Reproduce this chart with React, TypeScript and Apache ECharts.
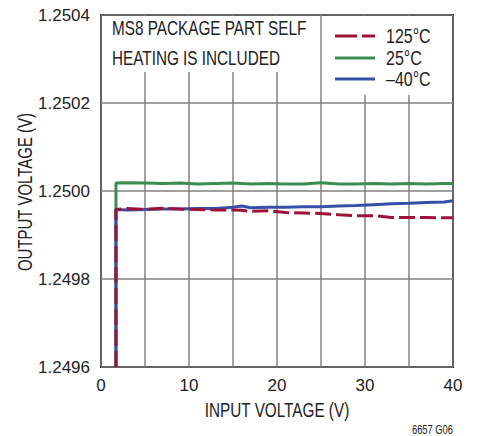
import React, { useEffect, useRef } from "react";
import * as echarts from "echarts";

const xMin = 0;
const xMax = 40;
const yMin = 1.2496;
const yMax = 1.2504;

const inputV = [1.7, 1.7, 3, 5, 7, 9, 11, 13, 15, 16, 17, 19, 21, 23, 25, 27, 29, 31, 33, 35, 37, 39, 40];

const v125 = [1.2496, 1.249958, 1.24996, 1.249958, 1.249961, 1.249959, 1.249958, 1.249957, 1.249957, 1.249956, 1.249954, 1.249955, 1.249951, 1.24995, 1.249949, 1.249946, 1.249944, 1.249944, 1.24994, 1.24994, 1.24994, 1.249939, 1.249939];
const v25 = [1.2496, 1.250018, 1.250019, 1.250018, 1.250017, 1.250018, 1.250016, 1.250017, 1.250018, 1.250017, 1.250016, 1.250017, 1.250016, 1.250016, 1.250019, 1.250016, 1.250016, 1.250017, 1.250016, 1.250017, 1.250016, 1.250017, 1.250017];
const vm40 = [1.2496, 1.249958, 1.249957, 1.249958, 1.249959, 1.249959, 1.24996, 1.24996, 1.249963, 1.249966, 1.249962, 1.249963, 1.249963, 1.249964, 1.249964, 1.249966, 1.249967, 1.249969, 1.249971, 1.249972, 1.249974, 1.249975, 1.249978];

const seriesNames = ["125°C", "25°C", "–40°C"];
const note = ["MS8 PACKAGE PART SELF", "HEATING IS INCLUDED"];
const xName = "INPUT VOLTAGE (V)";
const yName = "OUTPUT VOLTAGE (V)";
const footnote = "6657 G06";

const RED = "#9E1238";
const GREEN = "#3A8C50";
const BLUE = "#3550A8";
const TXT = "#222";

const REG = "'Liberation Sans', Arial, sans-serif";
const SQ = 0.765;

const pair = (ys: number[]) => ys.map((y, i) => [inputV[i], y]);

const ntext = (x: number, y: number, text: string, extra: any = {}, style: any = {}) => ({
  type: "text",
  z: 25,
  x,
  y,
  scaleX: SQ,
  ...extra,
  style: {
    text,
    fontFamily: REG,
    fontSize: 20,
    fill: TXT,
    verticalAlign: "middle",
    ...style,
  },
});

export default function App() {
  const ref = useRef<HTMLDivElement>(null);
  useEffect(() => {
    if (!ref.current) return;
    const chart = echarts.init(ref.current, null, { renderer: "svg" });
    const legendColors = [RED, GREEN, BLUE];
    const legendRows = [36, 58, 79];
    const legendGraphics: any[] = [];
    seriesNames.forEach((n, i) => {
      legendGraphics.push({
        type: "line",
        z: 25,
        shape: { x1: 335, y1: legendRows[i], x2: 375, y2: legendRows[i] },
        style: {
          stroke: legendColors[i],
          lineWidth: 3,
          lineDash: i === 0 ? [22, 5] : null,
        },
      });
      legendGraphics.push(ntext(386, legendRows[i], n, { scaleX: 0.8 }));
    });
    chart.setOption({
      animation: false,
      backgroundColor: "#fff",
      grid: {
        left: 101,
        top: 15,
        width: 352,
        height: 352,
        show: true,
        borderColor: "#111",
        borderWidth: 2,
        backgroundColor: "transparent",
      },
      xAxis: {
        type: "value",
        min: xMin,
        max: xMax,
        interval: 5,
        axisLine: { show: false },
        axisTick: { show: false },
        axisLabel: {
          margin: 10,
          fontFamily: REG,
          fontSize: 17,
          color: TXT,
          formatter: (v: number) => (Math.round(v) % 10 === 0 ? String(Math.round(v)) : ""),
        },
        splitLine: { show: true, lineStyle: { color: "#808080", width: 1.5 } },
      },
      yAxis: {
        type: "value",
        min: yMin,
        max: yMax,
        interval: 0.0002,
        axisLine: { show: false },
        axisTick: { show: false },
        axisLabel: {
          margin: 11,
          fontFamily: REG,
          fontSize: 17,
          color: TXT,
          formatter: (v: number) => v.toFixed(4),
        },
        splitLine: { show: true, lineStyle: { color: "#808080", width: 1.5 } },
      },
      graphic: [
        { type: "rect", z: 20, shape: { x: 102, y: 16, width: 218, height: 56 }, style: { fill: "#fff" } },
        { type: "rect", z: 20, shape: { x: 323, y: 16, width: 129, height: 79 }, style: { fill: "#fff" } },
        ntext(112, 28, note[0]),
        ntext(112, 58, note[1]),
        ...legendGraphics,
        ntext(277, 410, xName, {}, { textAlign: "center" }),
        ntext(25, 192, yName, { rotation: Math.PI / 2, scaleX: 0.75 }, { textAlign: "center" }),
        ntext(453, 429, footnote, { scaleX: 0.72 }, { textAlign: "right", fontSize: 13 }),
      ],
      series: [
        {
          name: seriesNames[1],
          type: "line",
          data: pair(v25),
          symbol: "none",
          lineStyle: { color: GREEN, width: 3 },
          z: 3,
        },
        {
          name: seriesNames[2],
          type: "line",
          data: pair(vm40),
          symbol: "none",
          lineStyle: { color: BLUE, width: 3 },
          z: 4,
        },
        {
          name: seriesNames[0],
          type: "line",
          data: pair(v125),
          symbol: "none",
          lineStyle: { color: RED, width: 3, type: [16, 5] },
          z: 5,
        },
      ],
    });
    return () => chart.dispose();
  }, []);
  return (
    <div
      ref={ref}
      style={{ position: "fixed", left: 0, top: 0, width: 482, height: 436 }}
    />
  );
}
